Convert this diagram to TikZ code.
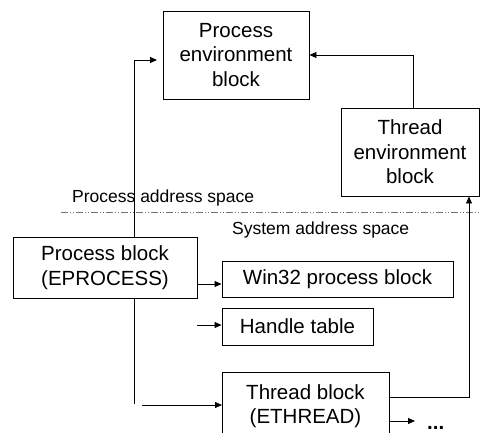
\documentclass[tikz,border=0pt]{standalone}
\usepackage{fontspec}
\setmainfont{Liberation Sans}
\usetikzlibrary{arrows.meta}
\begin{document}
\begin{tikzpicture}[x=1pt,y=-1pt,
  blk/.style={draw,line width=0.9pt,inner sep=0pt,font=\fontsize{20.5}{24.5}\selectfont,align=center},
  lbl/.style={inner sep=0pt,font=\fontsize{17.5}{20}\selectfont},
  conn/.style={line width=0.9pt},
  arr/.style={line width=0.9pt,-{Triangle[length=7pt,width=6pt]}}]
\useasboundingbox (0,0) rectangle (480,432);
% boxes
\node[blk,minimum width=146pt,minimum height=88pt] (peb) at (236,55) {Process\\environment\\block};
\node[blk,minimum width=138pt,minimum height=88pt] (teb) at (410,152) {Thread\\environment\\block};
\node[blk,minimum width=184pt,minimum height=61pt] (pb) at (105,267.5) {Process block\\(EPROCESS)};
\node[blk,minimum width=231pt,minimum height=36pt] (w32) at (337.5,279) {Win32 process block};
\node[blk,minimum width=151pt,minimum height=37pt] (ht) at (297.5,326.5) {Handle table};
\node[blk,minimum width=167pt,minimum height=74pt,anchor=north west] (tb) at (222,372) {};
\node[inner sep=0pt,font=\fontsize{20.5}{24.5}\selectfont] (tbt1) at (305.5,392) {Thread block};
\node[inner sep=0pt,font=\fontsize{20.5}{24.5}\selectfont] (tbt2) at (305.5,418) {(ETHREAD)};
% separator
\draw[line width=1pt,black!55,dash pattern=on 7pt off 2pt on 1pt off 2pt on 1pt off 2pt] (61,212) -- (480,212);
\node[lbl,anchor=west] (pas) at (72,198) {Process address space};
\node[lbl,anchor=west] (sas) at (232,230) {System address space};
% connectors
\coordinate (c1) at (134,404);
\coordinate (c2) at (134,60);
\draw[conn] (pb.north -| c2) -- (c2);
\draw[arr] (c2) -- (157,60);
\draw[conn] (pb.south -| c1) -- (c1);
\draw[arr] (teb.north -| 413,0) |- (peb.east);
\coordinate (c3) at (142,405);
\draw[arr] (c3) -- (tb.west |- c3);
\draw[arr] (pb.east |- 0,284) -- (w32.west |- 0,284);
\coordinate (c4) at (197,325);
\draw[arr] (c4) -- (ht.west |- c4);
\draw[arr] (tb.east |- 0,397) -| (teb.south -| 469,0);
\coordinate (c5) at (415,421);
\draw[arr] (tb.east |- c5) -- (c5);
\node[inner sep=0pt,font=\bfseries\fontsize{20.5}{24.5}\selectfont,anchor=base west] (dots) at (427,429) {...};
\end{tikzpicture}
\end{document}
